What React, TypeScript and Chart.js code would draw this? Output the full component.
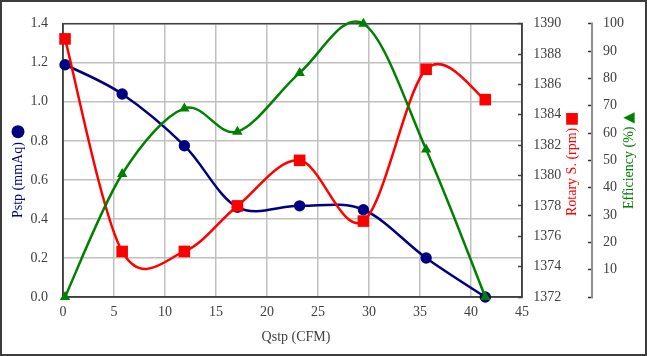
import React, { useEffect, useRef } from 'react';
import { Chart, registerables } from 'chart.js';

Chart.register(...registerables);

// ---- data ----
const QSTP = [0.2, 5.8, 11.9, 17.1, 23.2, 29.45, 35.6, 41.4];
const PSTP = [1.19, 1.04, 0.775, 0.46, 0.467, 0.447, 0.2, 0.0];
const ROTARY = [1389, 1375, 1375, 1378, 1381, 1377, 1387, 1385];
const EFFICIENCY = [0, 45, 69, 60.5, 82, 100, 54, 0];

const X_TITLE = 'Qstp (CFM)';
const PSTP_TITLE = 'Pstp (mmAq)';
const ROTARY_TITLE = 'Rotary S. (rpm)';
const EFF_TITLE = 'Efficiency (%)';

const NAVY = '#000080';
const RED = '#ff0000';
const GREEN = '#008000';
const TEXT = '#404040';
const GRID = '#c0c0c0';
const FONT = "'Liberation Serif', 'Times New Roman', serif";

function drawRotatedTitle(
  ctx: CanvasRenderingContext2D,
  text: string,
  color: string,
  cx: number,
  yStart: number,
  marker: 'circle' | 'square' | 'triangle',
  gap: number,
  size: number
) {
  ctx.save();
  ctx.translate(cx, yStart);
  ctx.rotate(-Math.PI / 2);
  ctx.font = `14px ${FONT}`;
  ctx.fillStyle = color;
  ctx.textAlign = 'left';
  ctx.textBaseline = 'middle';
  ctx.fillText(text, 0, 0);
  const w = ctx.measureText(text).width;
  const mx = w + gap + size / 2;
  ctx.beginPath();
  if (marker === 'circle') {
    ctx.arc(mx, 0, size / 2, 0, Math.PI * 2);
  } else if (marker === 'square') {
    ctx.rect(mx - size / 2, -size / 2, size, size);
  } else {
    ctx.moveTo(mx, -size / 2);
    ctx.lineTo(mx + size / 2, size / 2);
    ctx.lineTo(mx - size / 2, size / 2);
    ctx.closePath();
  }
  ctx.fill();
  ctx.restore();
}

// Excel-style smoothing: uniform Catmull-Rom control points (1/6 of neighbour span)
const excelSmooth = {
  id: 'excelSmooth',
  beforeDatasetsDraw(chart: any) {
    chart.data.datasets.forEach((_ds: any, i: number) => {
      const meta = chart.getDatasetMeta(i);
      const line = meta.dataset;
      if (!line) return;
      if (typeof line.updateControlPoints === 'function') {
        line.updateControlPoints(chart.chartArea, meta.iScale ? meta.iScale.axis : 'x');
      }
      const pts = meta.data;
      const n = pts.length;
      for (let k = 0; k < n; k++) {
        const p = pts[k];
        const prev = pts[Math.max(0, k - 1)];
        const next = pts[Math.min(n - 1, k + 1)];
        const dx = (next.x - prev.x) / 6;
        const dy = (next.y - prev.y) / 6;
        p.cp1x = p.x - dx;
        p.cp1y = p.y - dy;
        p.cp2x = p.x + dx;
        p.cp2y = p.y + dy;
      }
      line._pointsUpdated = true;
      line._path = undefined;
    });
  },
};

const decor = {
  id: 'decor',
  beforeDatasetsDraw(chart: any) {
    const { ctx, chartArea } = chart;
    const { left, top, right, bottom } = chartArea;
    ctx.save();
    ctx.strokeStyle = TEXT;
    ctx.lineWidth = 1.5;
    ctx.strokeRect(left, top, right - left, bottom - top);
    ctx.restore();
  },
  afterDraw(chart: any) {
    const { ctx, width, height } = chart;
    ctx.save();
    ctx.strokeStyle = '#3c3c3c';
    ctx.lineWidth = 2;
    ctx.strokeRect(1, 1, width - 2, height - 2);
    ctx.font = `14px ${FONT}`;
    ctx.fillStyle = TEXT;
    ctx.textAlign = 'center';
    ctx.textBaseline = 'middle';
    ctx.fillText(X_TITLE, 296, 337);
    ctx.restore();
    drawRotatedTitle(ctx, PSTP_TITLE, NAVY, 18, 218, 'circle', 4, 13);
    drawRotatedTitle(ctx, ROTARY_TITLE, RED, 572, 216, 'square', 3, 11.7);
    drawRotatedTitle(ctx, EFF_TITLE, GREEN, 629, 209, 'triangle', 3, 11.3);
  },
};

const tickFont = { family: FONT, size: 14 };

export default function App() {
  const ref = useRef<HTMLCanvasElement>(null);
  useEffect(() => {
    const chart = new Chart(ref.current as HTMLCanvasElement, {
      type: 'line',
      data: {
        datasets: [
          {
            label: 'Pstp',
            data: QSTP.map((x, i) => ({ x, y: PSTP[i] })),
            xAxisID: 'x',
            yAxisID: 'y',
            borderColor: NAVY,
            backgroundColor: NAVY,
            pointBackgroundColor: NAVY,
            pointBorderColor: NAVY,
            pointBorderWidth: 0,
            pointStyle: 'circle',
            pointRadius: 5.7,
            borderWidth: 2.5,
            tension: 0.4,
            order: 2,
            clip: false,
          },
          {
            label: 'Rotary S.',
            data: QSTP.map((x, i) => ({ x, y: ROTARY[i] })),
            xAxisID: 'x',
            yAxisID: 'y2',
            borderColor: RED,
            backgroundColor: RED,
            pointBackgroundColor: RED,
            pointBorderColor: RED,
            pointBorderWidth: 0,
            pointStyle: 'rect',
            pointRadius: 8.2,
            borderWidth: 2.5,
            tension: 0.4,
            order: 1,
            clip: false,
          },
          {
            label: 'Efficiency',
            data: QSTP.map((x, i) => ({ x, y: EFFICIENCY[i] })),
            xAxisID: 'x',
            yAxisID: 'y3',
            borderColor: GREEN,
            backgroundColor: GREEN,
            pointBackgroundColor: GREEN,
            pointBorderColor: GREEN,
            pointBorderWidth: 0,
            pointStyle: 'triangle',
            pointRadius: 6,
            borderWidth: 2.5,
            tension: 0.4,
            order: 0,
            clip: false,
          },
        ],
      },
      options: {
        responsive: false,
        animation: false,
        layout: { padding: { top: 18, left: 0, right: 0, bottom: 0 } },
        plugins: { legend: { display: false }, tooltip: { enabled: false } },
        scales: {
          x: {
            type: 'linear',
            position: 'bottom',
            min: 0,
            max: 45,
            ticks: { stepSize: 5, font: tickFont, color: TEXT, padding: 7, maxRotation: 0 },
            grid: { color: GRID, lineWidth: 1.5, drawTicks: false },
            border: { display: true, color: TEXT, width: 1.5 },
            afterFit: (s: any) => {
              s.height = 59;
            },
          },
          y: {
            type: 'linear',
            position: 'left',
            min: 0,
            max: 1.4,
            ticks: {
              stepSize: 0.2,
              font: tickFont,
              color: TEXT,
              padding: 15,
              callback: (v: any) => Number(v).toFixed(1),
            },
            grid: { color: GRID, lineWidth: 1.5, drawTicks: false },
            border: { display: true, color: TEXT, width: 1.5 },
            afterFit: (s: any) => {
              s.width = 63;
            },
          },
          y2: {
            type: 'linear',
            position: 'right',
            min: 1372,
            max: 1390,
            ticks: {
              stepSize: 2,
              font: tickFont,
              color: TEXT,
              padding: 15.3,
              callback: (v: any) => String(Math.round(Number(v))),
            },
            grid: {
              drawOnChartArea: false,
              drawTicks: true,
              tickLength: -4,
              tickColor: TEXT,
              tickWidth: 1.5,
            },
            border: { display: true, color: TEXT, width: 1.5 },
            afterFit: (s: any) => {
              s.width = 70;
            },
          },
          y3: {
            type: 'linear',
            position: 'right',
            min: 0,
            max: 100,
            ticks: {
              stepSize: 10,
              font: tickFont,
              color: TEXT,
              padding: 15,
              callback: (v: any) => (Number(v) === 0 ? '' : String(v)),
            },
            grid: {
              drawOnChartArea: false,
              drawTicks: true,
              tickLength: -4,
              tickColor: '#303030',
              tickWidth: 1.5,
            },
            border: { display: true, color: '#909090', width: 2 },
            afterFit: (s: any) => {
              s.width = 55;
            },
          },
        },
      } as any,
      plugins: [excelSmooth, decor],
    });
    return () => chart.destroy();
  }, []);
  return (
    <div style={{ position: 'fixed', left: 0, top: 0, width: 647, height: 356, background: '#fff' }}>
      <canvas ref={ref} width={647} height={356} style={{ display: 'block', width: 647, height: 356 }} />
    </div>
  );
}
